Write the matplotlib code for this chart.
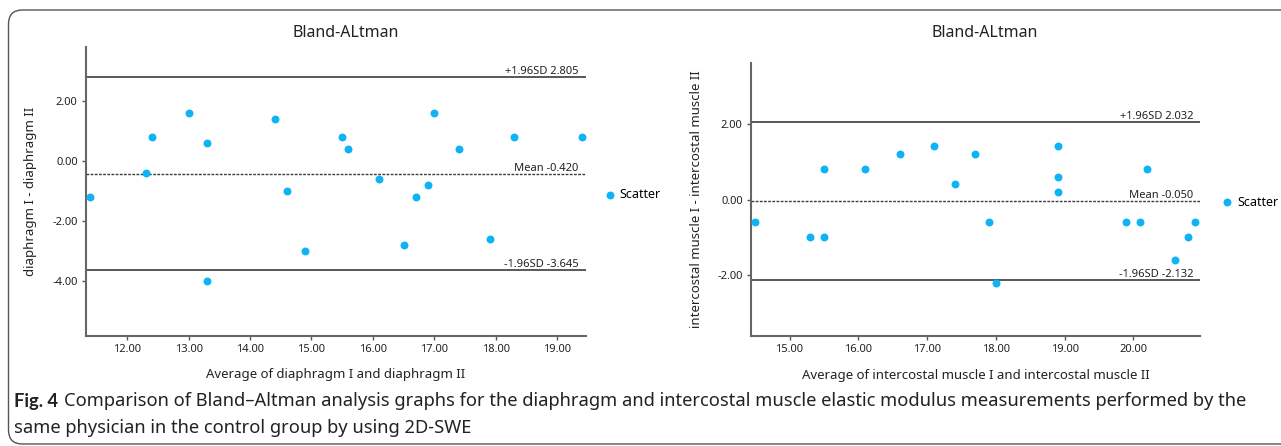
import matplotlib.pyplot as plt
from matplotlib.patches import FancyBboxPatch
from matplotlib.transforms import IdentityTransform

plt.rcParams['font.family'] = ['Noto Sans', 'DejaVu Sans']

# diaphragm panel
dia_avg = [11.4, 12.3, 12.4, 13.0, 13.3, 13.3, 14.4, 14.6, 14.9, 15.5,
           15.6, 16.1, 16.5, 16.7, 16.9, 17.0, 17.4, 17.9, 18.3, 19.4]
dia_diff = [-1.2, -0.4, 0.8, 1.6, 0.6, -4.0, 1.4, -1.0, -3.0, 0.8,
            0.4, -0.6, -2.8, -1.2, -0.8, 1.6, 0.4, -2.6, 0.8, 0.8]
dia_mean, dia_upper, dia_lower = -0.420, 2.805, -3.645

# intercostal muscle panel
ic_avg = [14.5, 15.3, 15.5, 15.5, 16.1, 16.6, 17.1, 17.4, 17.7, 17.9,
          18.0, 18.9, 18.9, 18.9, 19.9, 20.1, 20.2, 20.6, 20.8, 20.9]
ic_diff = [-0.6, -1.0, -1.0, 0.8, 0.8, 1.2, 1.4, 0.4, 1.2, -0.6,
           -2.2, 1.4, 0.6, 0.2, -0.6, -0.6, 0.8, -1.6, -1.0, -0.6]
ic_mean, ic_upper, ic_lower = -0.050, 2.032, -2.132

dia_ticks = [12, 13, 14, 15, 16, 17, 18, 19]
dia_yticks = [-4, -2, 0, 2]
ic_ticks = [15, 16, 17, 18, 19, 20]
ic_yticks = [-2, 0, 2]

W, H = 1281, 446
fig = plt.figure(figsize=(W / 100, H / 100), dpi=100)

dot = '#0cb4f4'
line_c = '#3c3c3c'


def ba_panel(rect, avg, diff, mean, upper, lower, xlim, ylim, xticks, yticks,
             xlabel, ylabel, xlab_y, ylab_x, leg_anchor):
    ax = fig.add_axes(rect)
    ax.axhline(upper, color=line_c, lw=1.2)
    ax.axhline(lower, color=line_c, lw=1.2)
    ax.axhline(mean, color=line_c, lw=1.0, ls=(0, (2, 1)))
    ax.scatter(avg, diff, s=22, color=dot, label='Scatter', zorder=3)
    ax.set_xlim(*xlim)
    ax.set_ylim(*ylim)
    ax.set_xticks(xticks)
    ax.set_xticklabels(['%.2f' % t for t in xticks])
    ax.set_yticks(yticks)
    ax.set_yticklabels(['%.2f' % t for t in yticks])
    ax.tick_params(labelsize=8, length=3, width=1, color='#555555',
                   labelcolor='#222222', pad=3)
    for s in ['top', 'right']:
        ax.spines[s].set_visible(False)
    for s in ['left', 'bottom']:
        ax.spines[s].set_color('#666666')
        ax.spines[s].set_linewidth(1.5)
    ax.set_xlabel(xlabel, fontsize=9.5, color='#222222')
    ax.set_ylabel(ylabel, fontsize=9.5, color='#222222')
    ax.xaxis.set_label_coords(0.5, xlab_y)
    ax.yaxis.set_label_coords(ylab_x, 0.5)
    x1 = xlim[1] - (xlim[1] - xlim[0]) * 0.015
    ax.text(x1, upper, '+1.96SD %.3f' % upper, ha='right', va='bottom',
            fontsize=8, color='#222222')
    ax.text(x1, mean, 'Mean %.3f' % mean, ha='right', va='bottom',
            fontsize=8, color='#222222')
    ax.text(x1, lower, '-1.96SD %.3f' % lower, ha='right', va='bottom',
            fontsize=8, color='#222222')
    ax.legend(loc='center left', bbox_to_anchor=leg_anchor, frameon=False,
              fontsize=9, handletextpad=0.3, borderaxespad=0,
              handlelength=1.0, markerscale=1.0)
    return ax


ba_panel([86 / W, 1 - 336 / H, 500 / W, 289 / H], dia_avg, dia_diff,
         dia_mean, dia_upper, dia_lower, (11.33, 19.47), (-5.83, 3.8),
         dia_ticks, dia_yticks, 'Average of diaphragm I and diaphragm II',
         'diaphragm I - diaphragm II', -0.11, -0.098, (1.025, 0.488))

ba_panel([751 / W, 1 - 336 / H, 449 / W, 273 / H], ic_avg, ic_diff,
         ic_mean, ic_upper, ic_lower, (14.44, 20.97), (-3.6, 3.6),
         ic_ticks, ic_yticks,
         'Average of intercostal muscle I and intercostal muscle II',
         'intercostal muscle I - intercostal muscle II', -0.122, -0.108,
         (1.035, 0.49))

fig.text(346 / W, 1 - 33 / H, 'Bland-ALtman', ha='center', va='center',
         fontsize=11.5, color='#222222')
fig.text(985 / W, 1 - 33 / H, 'Bland-ALtman', ha='center', va='center',
         fontsize=11.5, color='#222222')

# caption
cap_size = 13.2
fig.text(14 / W, 1 - 401 / H, 'Fig. 4', ha='left', va='center',
         fontsize=cap_size, fontweight='bold', color='#222222',
         family=['Lato', 'DejaVu Sans'])
fig.text(64 / W, 1 - 401 / H,
         'Comparison of Bland\u2013Altman analysis graphs for the diaphragm and '
         'intercostal muscle elastic modulus measurements performed by the',
         ha='left', va='center', fontsize=cap_size, color='#222222')
fig.text(14 / W, 1 - 428 / H,
         'same physician in the control group by using 2D-SWE',
         ha='left', va='center', fontsize=cap_size, color='#222222')

# rounded frame around the figure panel
frame = FancyBboxPatch((8.5, 2), 1320, 434, boxstyle='round,pad=0,rounding_size=14',
                       transform=IdentityTransform(), fill=False,
                       edgecolor='#555555', lw=1.0)
fig.patches.append(frame)

fig.savefig('out.png', dpi=100)
